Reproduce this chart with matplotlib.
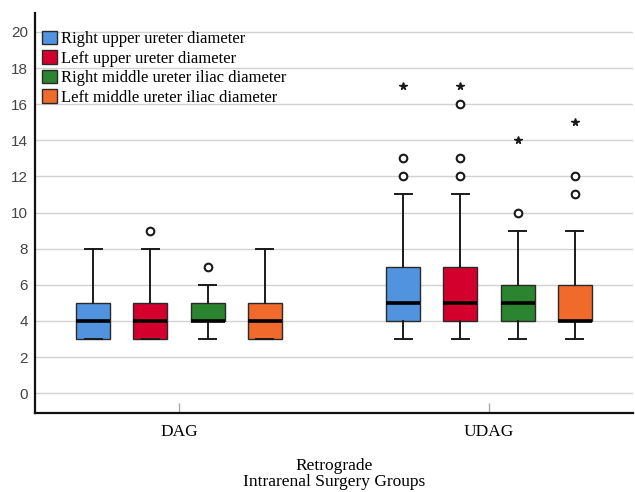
import numpy as np
import matplotlib
matplotlib.use("Agg")
import matplotlib.pyplot as plt
from matplotlib.patches import Patch

groups = ["DAG", "UDAG"]
series = ["Right upper ureter diameter", "Left upper ureter diameter",
          "Right middle ureter iliac diameter", "Left middle ureter iliac diameter"]
colors = ["#5293e0", "#d3002e", "#2a8430", "#f06a2b"]

# box statistics: [DAG, UDAG] for each series
q1 = [[3, 4], [3, 4], [4, 4], [3, 4]]
med = [[4, 5], [4, 5], [4, 5], [4, 4]]
q3 = [[5, 7], [5, 7], [5, 6], [5, 6]]
whislo = [[3, 3], [3, 3], [3, 3], [3, 3]]
whishi = [[8, 11], [8, 11], [6, 9], [8, 9]]
outliers = [[[], [12, 13]], [[9], [12, 13, 16]], [[7], [10]], [[], [11, 12]]]
extremes = [[[], [17]], [[], [17]], [[], [14]], [[], [15]]]

offsets = [-0.277, -0.0925, 0.0925, 0.277]
box_w = 0.11

plt.rcParams["font.family"] = ["Liberation Serif", "DejaVu Serif"]

fig = plt.figure(figsize=(6.35, 4.92), dpi=100)
ax = fig.add_axes([35/635, 79/492, 598/635, 400/492])

for yv in range(0, 21, 2):
    ax.axhline(yv, color="#d2d2d2", lw=1.0, zorder=0)

for s in range(len(series)):
    stats = []
    pos = []
    for g in range(len(groups)):
        stats.append({"q1": q1[s][g], "med": med[s][g], "q3": q3[s][g],
                      "whislo": whislo[s][g], "whishi": whishi[s][g],
                      "fliers": outliers[s][g]})
        pos.append(g + 1 + offsets[s])
    ax.bxp(stats, positions=pos, widths=box_w, patch_artist=True,
           showfliers=True, manage_ticks=False,
           boxprops=dict(facecolor=colors[s], edgecolor="#2a2a2a", lw=1.0),
           medianprops=dict(color="black", lw=2.6),
           whiskerprops=dict(color="#1a1a1a", lw=1.4),
           capprops=dict(color="#1a1a1a", lw=1.4),
           flierprops=dict(marker="o", markerfacecolor="white",
                           markeredgecolor="#1a1a1a", markersize=5.5, mew=1.5))
    for g in range(len(groups)):
        ext = extremes[s][g]
        if ext:
            ax.plot([g + 1 + offsets[s]] * len(ext), ext, ls="none", marker="*",
                    color="#1a1a1a", markersize=5.5)

ax.set_xlim(0.5355, 2.4645)
ax.set_ylim(-1.1, 21.05)
ax.set_yticks(range(0, 21, 2))
ax.set_xticks([1, 2])
ax.set_xticklabels(groups, fontsize=12.5)
ax.tick_params(axis="y", length=0, pad=5, labelsize=11, labelcolor="#444444")
for lab in ax.get_yticklabels():
    lab.set_family(["Liberation Sans", "DejaVu Sans"])
ax.tick_params(axis="x", direction="in", length=7, width=1, color="#aaaaaa", pad=8)
for sp in ["top", "right"]:
    ax.spines[sp].set_visible(False)
for sp in ["left", "bottom"]:
    ax.spines[sp].set_linewidth(1.6)
    ax.spines[sp].set_color("#111111")
ax.set_xlabel("Retrograde\nIntrarenal Surgery Groups", fontsize=12.5, labelpad=13,
              linespacing=1.0)

handles = [Patch(facecolor=c, edgecolor="#2a2a2a", lw=1.0) for c in colors]
ax.legend(handles, series, loc="upper left", bbox_to_anchor=(0.012, 0.955),
          frameon=False, borderpad=0, borderaxespad=0, fontsize=12,
          handlelength=0.9, handleheight=0.85, handletextpad=0.2,
          labelspacing=0.18)

fig.savefig("out.png", dpi=100)
